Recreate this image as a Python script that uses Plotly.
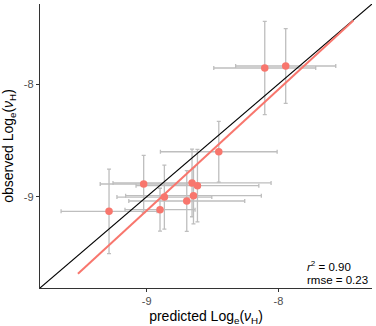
import plotly.graph_objects as go

# data
pred = [-9.286, -9.023, -8.899, -8.866, -8.696, -8.656, -8.645, -8.615, -8.453, -8.104, -7.945]
obs = [-9.130, -8.887, -9.115, -9.003, -9.038, -8.878, -8.991, -8.902, -8.601, -7.858, -7.840]
pred_err = [0.364, 0.33, 0.266, 0.36, 0.44, 0.60, 0.515, 0.466, 0.443, 0.387, 0.38]
obs_err = [0.375, 0.253, 0.19, 0.284, 0.27, 0.30, 0.25, 0.322, 0.27, 0.414, 0.331]
fit_x = [-9.522, -7.431]
fit_y = [-9.683, -7.436]
axis_range = [-9.81, -7.29]
ticks = [-9, -8]
tick_text = ["-9", "-8"]
stats = ["<i>r</i><sup>2</sup> = 0.90", "rmse = 0.23"]

RED = "#F8766D"
GREY = "#BEBEBE"
FONT = "Liberation Sans, Arial, sans-serif"

fig = go.Figure()
fig.add_trace(go.Scatter(
    x=pred, y=obs, mode="markers",
    marker=dict(size=7, color="rgba(0,0,0,0)"),
    error_x=dict(type="data", array=pred_err, color=GREY, thickness=1.3, width=2),
    error_y=dict(type="data", array=obs_err, color=GREY, thickness=1.3, width=2),
    showlegend=False, hoverinfo="skip"))
fig.add_trace(go.Scatter(x=axis_range, y=axis_range, mode="lines",
                         line=dict(color="black", width=1.1), showlegend=False))
fig.add_trace(go.Scatter(x=fit_x, y=fit_y, mode="lines",
                         line=dict(color=RED, width=2), showlegend=False))
fig.add_trace(go.Scatter(x=pred, y=obs, mode="markers",
                         marker=dict(size=7.5, color=RED), showlegend=False))

axis_common = dict(
    range=axis_range, tickvals=ticks, ticktext=tick_text,
    showgrid=False, zeroline=False, showline=True, linecolor="#333333", linewidth=1.3,
    ticks="outside", ticklen=3, tickcolor="#333333", tickwidth=1,
    tickfont=dict(family=FONT, size=11, color="#4D4D4D"),
)
fig.update_xaxes(**axis_common,
                 title=dict(text="predicted Log<sub>e</sub>(<i>ν</i><sub>H</sub>)",
                            font=dict(family=FONT, size=14, color="black"), standoff=6))
fig.update_yaxes(**axis_common,
                 title=dict(text="observed Log<sub>e</sub>(<i>ν</i><sub>H</sub>)",
                            font=dict(family=FONT, size=14, color="black"), standoff=6))

for i, t in enumerate(stats):
    fig.add_annotation(x=-7.80, y=-9.612 - 0.125 * i, xref="x", yref="y", text=t,
                       showarrow=False, xanchor="left", yanchor="middle",
                       font=dict(family=FONT, size=11.5, color="black"))

fig.update_layout(
    width=376, height=326,
    margin=dict(l=40, r=4, t=4, b=38),
    plot_bgcolor="white", paper_bgcolor="white",
    font=dict(family=FONT),
)
fig.write_html("out.html")
